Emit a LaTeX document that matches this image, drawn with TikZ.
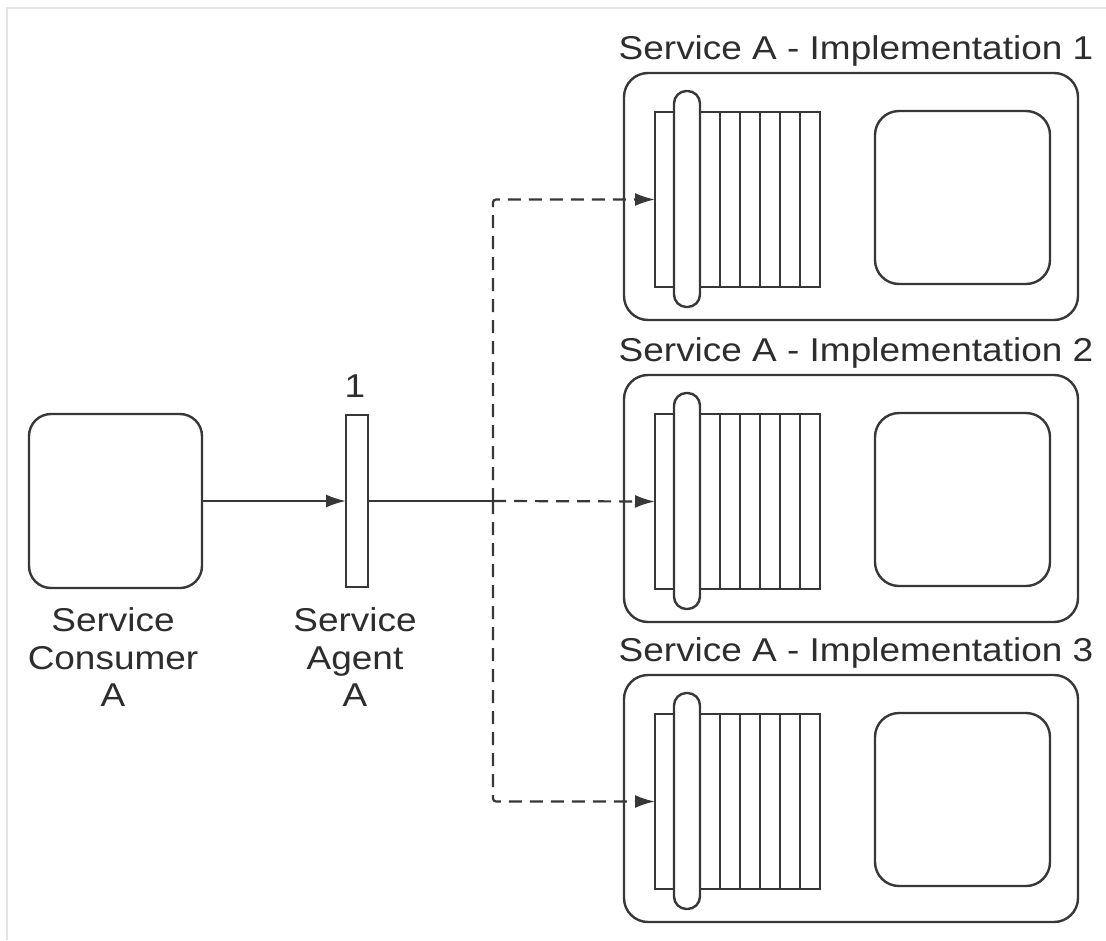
\documentclass[tikz,border=0pt]{standalone}
\usepackage{fontspec}
\newfontfamily\labfont{Liberation Sans}[FakeStretch=1.12]
\usetikzlibrary{arrows.meta}
\definecolor{ink}{RGB}{55,55,55}
\definecolor{txt}{RGB}{45,45,45}
\definecolor{frame}{RGB}{228,228,228}
\begin{document}
\begin{tikzpicture}[x=1pt,y=-1pt,
  every node/.style={inner sep=0pt, outer sep=0pt},
  boxline/.style={draw=ink, line width=2.4pt},
  outerbox/.style={boxline, rounded corners=24pt, minimum width=454pt, minimum height=247pt},
  innerbox/.style={boxline, rounded corners=24pt, minimum width=175pt, minimum height=173pt},
  stackbox/.style={boxline, minimum width=165pt, minimum height=175pt},
  pillbox/.style={boxline, fill=white, rounded corners=12.5pt, minimum width=26pt, minimum height=216pt},
  consumerbox/.style={boxline, rounded corners=22pt, minimum width=173pt, minimum height=174pt},
  agentbox/.style={boxline, minimum width=22pt, minimum height=172pt},
  lbl/.style={text=txt, font=\labfont\fontsize{33}{37.5}\selectfont, align=center},
  conn/.style={draw=ink, line width=2.2pt},
  dashconn/.style={conn, dash pattern=on 13pt off 8pt},
  tip/.style={-{Latex[length=20pt,width=13pt]}}
]
\useasboundingbox (0,0) rectangle (1106,940);
% faint frame
\draw[frame, line width=2pt] (7,940) -- (7,8) -- (1106,8);

% consumer and agent
\node[consumerbox] (consumer) at (115.5,501) {};
\node[agentbox] (agent) at (357,501) {};
\node[lbl] (agentnum) at (355,386) {1};
\node[lbl, anchor=north] (consumerlbl) at (113,608) {Service\\Consumer\\A};
\node[lbl, anchor=north] (agentlbl) at (355,608) {Service\\Agent\\A};

% implementations
\foreach \i/\T in {1/73, 2/375, 3/675} {
  \node[outerbox] (impl\i) at (851,\T+123.5) {};
  \node[lbl] (title\i) at (856,\T-22) {Service A - Implementation \i};
  \node[stackbox] (stack\i) at (737.5,\T+126.5) {};
  \foreach \xx in {720,740,760,780,800}
    \draw[boxline, line width=2.1pt] (\xx,\T+39) -- (\xx,\T+214);
  \node[pillbox] (pill\i) at (687,\T+126) {};
  \node[innerbox] (inner\i) at (962.5,\T+124.5) {};
}

% connectors
\coordinate (junction) at (493,501);
\draw[conn, tip] (consumer.east) -- (agent.west);
\draw[conn] (agent.east) -- (junction);
\draw[dashconn, tip] (junction) -- (stack2.west);
\draw[dashconn, tip, rounded corners=3pt] (junction) |- (stack1.west);
\draw[dashconn, tip, rounded corners=3pt] (junction) |- (stack3.west);
\end{tikzpicture}
\end{document}
